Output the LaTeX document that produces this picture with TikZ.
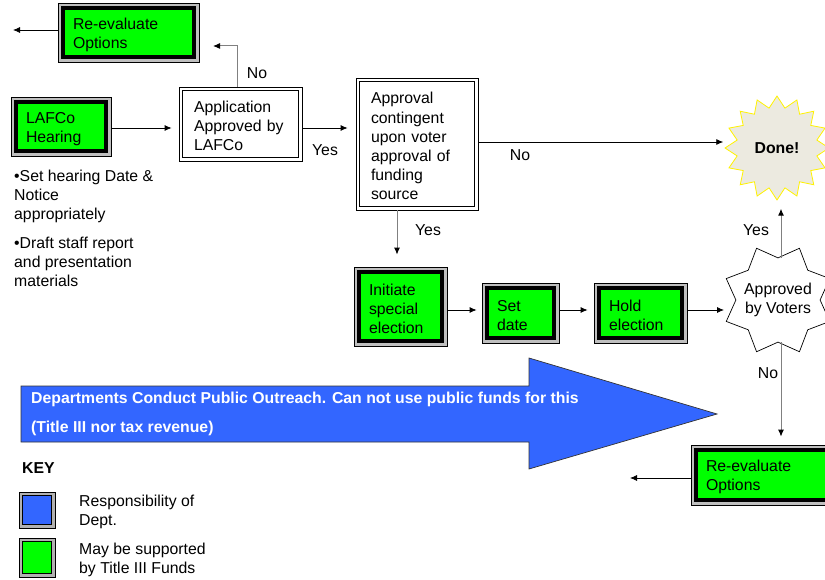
\documentclass[tikz,border=0pt]{standalone}
\usepackage{fontspec}
\setmainfont{Liberation Sans}
\usetikzlibrary{shapes,arrows.meta}
\definecolor{outreachblue}{HTML}{3366FF}
\definecolor{titlegreen}{HTML}{00FF00}
\definecolor{donefill}{HTML}{ECEAE0}
\newcommand\flowfont{\fontsize{15.8}{19.1}\selectfont}

\begin{document}
\begin{tikzpicture}[x=1pt,y=-1pt]
\tikzstyle{greenbox} = [draw=black, line width=0.8pt, fill=black!25, inner xsep=15pt, inner ysep=0pt, align=left, font=\flowfont,
  execute at begin node={\rule{0pt}{15.5pt}},
  path picture={\draw[line width=3.5pt, fill=titlegreen] ([shift={(4.8pt,4.8pt)}]path picture bounding box.south west) rectangle ([shift={(-4.8pt,-4.8pt)}]path picture bounding box.north east);}]
\tikzstyle{whitebox} = [draw=black, line width=0.8pt, fill=white, inner xsep=15pt, inner ysep=0pt, align=left, font=\flowfont,
  execute at begin node={\rule{0pt}{15.5pt}},
  path picture={\draw[line width=0.8pt] ([shift={(3.6pt,3.6pt)}]path picture bounding box.south west) rectangle ([shift={(-3.6pt,-3.6pt)}]path picture bounding box.north east);}]
\tikzstyle{donestar} = [star, star points=16, star point ratio=1.28, minimum size=104pt, inner sep=0pt, draw=yellow, line width=0.8pt, fill=donefill, font=\flowfont\bfseries]
\tikzstyle{voterstar} = [star, star points=8, star point ratio=1.33, shape border rotate=22.5, minimum size=112pt, inner sep=-8pt, draw=black, line width=0.7pt, fill=white, align=center, font=\flowfont]
\tikzstyle{arr} = [-{Latex[length=7pt,width=6pt]}, line width=0.8pt, black]
\tikzstyle{grayarr} = [-{Latex[length=7pt,width=6pt,color=black]}, line width=1pt, draw=black!50]
\tikzstyle{lbl} = [font=\flowfont, inner sep=0pt]
\tikzstyle{notes} = [anchor=base west, align=left, font=\flowfont, inner sep=0pt]
\tikzstyle{outreach} = [fill=outreachblue, draw=black!80, line width=0.7pt]
\tikzstyle{outreachtext} = [anchor=base west, inner sep=0pt, text=white, font=\flowfont\bfseries]
\tikzstyle{keydept} = [draw=black, line width=0.7pt, fill=black!30, minimum width=36pt, minimum height=36pt, inner sep=0pt,
  path picture={\draw[line width=1.2pt, fill=outreachblue] ([shift={(3.5pt,3.5pt)}]path picture bounding box.south west) rectangle ([shift={(-3.5pt,-3.5pt)}]path picture bounding box.north east);}]
\tikzstyle{keyfund} = [draw=black, line width=0.7pt, fill=black!30, minimum width=36pt, minimum height=39pt, inner sep=0pt,
  path picture={\draw[line width=1.2pt, fill=titlegreen] ([shift={(3.5pt,3.5pt)}]path picture bounding box.south west) rectangle ([shift={(-3.5pt,-3.5pt)}]path picture bounding box.north east);}]

\useasboundingbox (0,0) rectangle (825,580);

% flow boxes
\node[greenbox, text width=111pt, minimum height=59pt] (reevalA) at (128.5,32.5) {Re-evaluate\\Options};
\node[greenbox, text width=70pt, minimum height=59pt] (lafco) at (61,126.5) {LAFCo\\Hearing};
\node[whitebox, text width=93pt, minimum height=74pt] (appl) at (240.5,124) {Application\\Approved by\\LAFCo};
\node[whitebox, text width=92pt, minimum height=132pt] (approval) at (417,144) {Approval\\contingent\\upon voter\\approval of\\funding\\source};
\node[greenbox, text width=63pt, minimum height=79pt] (init) at (400.5,306.5) {Initiate\\special\\election};
\node[greenbox, text width=47pt, minimum height=60pt] (setdate) at (520.5,313) {Set\\date};
\node[greenbox, text width=63pt, minimum height=60pt] (hold) at (640.5,313) {Hold\\election};
\node[greenbox, text width=111pt, minimum height=60pt] (reevalB) at (761.5,475) {Re-evaluate\\Options};
\node[donestar] (done) at (777,148) {Done!};
\node[voterstar] (voters) at (778,300) {Approved\\by Voters};

\coordinate (outA) at (13,30);
\coordinate (noEnd) at (213,46);
\coordinate (votersIn) at (724,310);
\coordinate (outB) at (630,478);

% connectors
\draw[arr] (reevalA.west |- outA) -- (outA);
\draw[arr, shorten >=7pt] (lafco.east |- 0,128) -- (appl.west |- 0,128);
\draw[grayarr] (appl.north -| 237,0) |- (noEnd);
\draw[arr, shorten >=8pt] (appl.east |- 0,128) -- (approval.west |- 0,128);
\draw[arr, shorten >=1pt] (approval.east |- 0,142) -- (done.west |- 0,142);
\draw[grayarr, shorten >=12pt] (approval.south -| 397,0) -- (init.north -| 397,0);
\draw[arr, shorten >=5pt] (init.east |- 0,310) -- (setdate.west |- 0,310);
\draw[arr, shorten >=6pt] (setdate.east |- 0,310) -- (hold.west |- 0,310);
\draw[arr] (hold.east |- 0,310) -- (votersIn);
\draw[grayarr, shorten >=8pt] (voters.north -| 781,0) -- (done.south -| 781,0);
\draw[grayarr, shorten >=8pt] (voters.south -| 781,0) -- (reevalB.north -| 781,0);
\draw[arr] (reevalB.west |- outB) -- (outB);

% branch labels
\node[lbl] (noA) at (257,73) {No};
\node[lbl] (yesA) at (325,150) {Yes};
\node[lbl] (noB) at (520,155) {No};
\node[lbl] (yesB) at (428,230) {Yes};
\node[lbl] (yesC) at (756,230) {Yes};
\node[lbl] (noC) at (768,373) {No};

% base anchor sits on the last line
\node[notes] (hearingNotes) at (14,286.5) {•Set hearing Date \&\\Notice\\appropriately\\[9.5pt]•Draft staff report\\and presentation\\materials};

% outreach arrow
\filldraw[outreach] (21,386) -- (529,386) -- (529,358) -- (717,414) -- (529,469) -- (529,442) -- (21,442) -- cycle;
\node[outreachtext] (outreachA) at (31,403.5) {Departments Conduct Public Outreach. Can not use public funds for this};
\node[outreachtext] (outreachB) at (31,432.5) {(Title III nor tax revenue)};

% key
\node[anchor=base west, inner sep=0pt, font=\flowfont\bfseries] (keyTitle) at (22,473.5) {KEY};
\node[keydept] (keyDept) at (37,510) {};
\node[keyfund] (keyFund) at (37,557.5) {};
\node[notes] (keyDeptText) at (79,525.6) {Responsibility of\\Dept.};
\node[notes] (keyFundText) at (79,573.3) {May be supported\\by Title III Funds};
\end{tikzpicture}
\end{document}
